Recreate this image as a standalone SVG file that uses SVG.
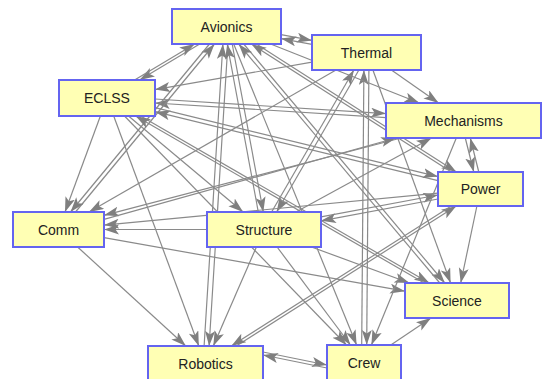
<svg xmlns="http://www.w3.org/2000/svg" width="542" height="379" viewBox="0 0 542 379">
<style>
.e{stroke:#8a8a8a;stroke-width:1.2;fill:none;marker-end:url(#ah)}
.n rect{fill:#ffffb4;stroke:#6464f0;stroke-width:2}
.n text{font-family:"Liberation Sans",Arial,sans-serif;font-size:14px;fill:#222;text-anchor:middle}
</style>
<defs>
<marker id="ah" markerUnits="userSpaceOnUse" markerWidth="16" markerHeight="11" refX="15" refY="5" orient="auto">
<path d="M0,0 L15,5 L0,10 L3.5,5 z" fill="#7f7f7f"/>
</marker>
</defs>
<rect width="542" height="379" fill="#fff"/>
<g id="edges">
<line class="e" x1="199.7" y1="44" x2="139.6" y2="80"/>
<line class="e" x1="134.6" y1="80" x2="194.7" y2="44"/>
<line class="e" x1="281" y1="34.6" x2="312" y2="40.4"/>
<line class="e" x1="312" y1="44.4" x2="281" y2="38.6"/>
<line class="e" x1="465.3" y1="138" x2="473.8" y2="172"/>
<line class="e" x1="478.8" y1="172" x2="470.3" y2="138"/>
<line class="e" x1="263" y1="352" x2="327" y2="365"/>
<line class="e" x1="327" y1="368" x2="263" y2="355"/>
<line class="e" x1="368.9" y1="70" x2="366.7" y2="345"/>
<line class="e" x1="361.7" y1="345" x2="363.9" y2="70"/>
<line class="e" x1="227.9" y1="44" x2="209.1" y2="346"/>
<line class="e" x1="204.1" y1="346" x2="222.9" y2="44"/>
<line class="e" x1="232.2" y1="44" x2="263.3" y2="212"/>
<line class="e" x1="258.3" y1="212" x2="227.2" y2="44"/>
<line class="e" x1="321" y1="216.8" x2="438" y2="195"/>
<line class="e" x1="438" y1="199" x2="321" y2="220.8"/>
<line class="e" x1="155" y1="99" x2="386" y2="113.6"/>
<line class="e" x1="386" y1="117.6" x2="155" y2="103"/>
<line class="e" x1="236.3" y1="346" x2="456.3" y2="206"/>
<line class="e" x1="451.3" y1="206" x2="231.3" y2="346"/>
<line class="e" x1="358.9" y1="70" x2="276.6" y2="212"/>
<line class="e" x1="271.6" y1="212" x2="353.9" y2="70"/>
<line class="e" x1="75.5" y1="212" x2="214.5" y2="44"/>
<line class="e" x1="209.5" y1="44" x2="70.5" y2="212"/>
<line class="e" x1="243.7" y1="44" x2="444.8" y2="283"/>
<line class="e" x1="439.8" y1="283" x2="238.7" y2="44"/>
<line class="e" x1="270.6" y1="44" x2="419.4" y2="103"/>
<line class="e" x1="256.4" y1="44" x2="456.4" y2="172"/>
<line class="e" x1="451.4" y1="172" x2="251.4" y2="44"/>
<line class="e" x1="233.7" y1="44" x2="356.6" y2="345"/>
<line class="e" x1="312" y1="62.1" x2="155" y2="89.6"/>
<line class="e" x1="336" y1="70" x2="89" y2="212"/>
<line class="e" x1="391.4" y1="70" x2="438.6" y2="103"/>
<line class="e" x1="372.9" y1="70" x2="450.6" y2="283"/>
<line class="e" x1="100.4" y1="116" x2="65" y2="212"/>
<line class="e" x1="113.7" y1="116" x2="198.8" y2="346"/>
<line class="e" x1="128.5" y1="116" x2="243.1" y2="212"/>
<line class="e" x1="124.5" y1="116" x2="346.5" y2="345"/>
<line class="e" x1="140.6" y1="116" x2="429.3" y2="283"/>
<line class="e" x1="424.3" y1="283" x2="135.6" y2="116"/>
<line class="e" x1="438" y1="180.6" x2="155" y2="111.7"/>
<line class="e" x1="155" y1="107.7" x2="438" y2="176.6"/>
<line class="e" x1="401" y1="138" x2="104" y2="215.3"/>
<line class="e" x1="104" y1="219.3" x2="396" y2="138"/>
<line class="e" x1="438" y1="193.1" x2="104" y2="225.1"/>
<line class="e" x1="207" y1="229.5" x2="104" y2="229.5"/>
<line class="e" x1="104" y1="237.6" x2="405" y2="291.2"/>
<line class="e" x1="77.6" y1="247" x2="185.8" y2="346"/>
<line class="e" x1="476.9" y1="206" x2="460.7" y2="283"/>
<line class="e" x1="390.8" y1="345" x2="431" y2="318"/>
<line class="e" x1="256.4" y1="247" x2="213.3" y2="346"/>
<line class="e" x1="277.1" y1="247" x2="350.5" y2="345"/>
<line class="e" x1="311.5" y1="247" x2="409.5" y2="283"/>
<line class="e" x1="456.3" y1="138" x2="371.4" y2="345"/>
<line class="e" x1="296" y1="212" x2="431.5" y2="138"/>
</g>
<g id="Avionics" class="n"><rect x="172" y="9" width="109" height="35"/><text x="226.5" y="31.5">Avionics</text></g>
<g id="Thermal" class="n"><rect x="312" y="35" width="109" height="35"/><text x="366.5" y="57.5">Thermal</text></g>
<g id="ECLSS" class="n"><rect x="59" y="80" width="96" height="36"/><text x="107" y="103">ECLSS</text></g>
<g id="Mechanisms" class="n"><rect x="386" y="103" width="155" height="35"/><text x="463.5" y="125.5">Mechanisms</text></g>
<g id="Power" class="n"><rect x="438" y="172" width="85" height="34"/><text x="480.5" y="194">Power</text></g>
<g id="Comm" class="n"><rect x="13" y="212" width="91" height="35"/><text x="58.5" y="234.5">Comm</text></g>
<g id="Structure" class="n"><rect x="207" y="212" width="114" height="35"/><text x="264" y="234.5">Structure</text></g>
<g id="Science" class="n"><rect x="405" y="283" width="104" height="35"/><text x="457" y="305.5">Science</text></g>
<g id="Crew" class="n"><rect x="327" y="345" width="74" height="36"/><text x="364" y="368">Crew</text></g>
<g id="Robotics" class="n"><rect x="148" y="346" width="115" height="36"/><text x="205.5" y="369">Robotics</text></g>
</svg>
